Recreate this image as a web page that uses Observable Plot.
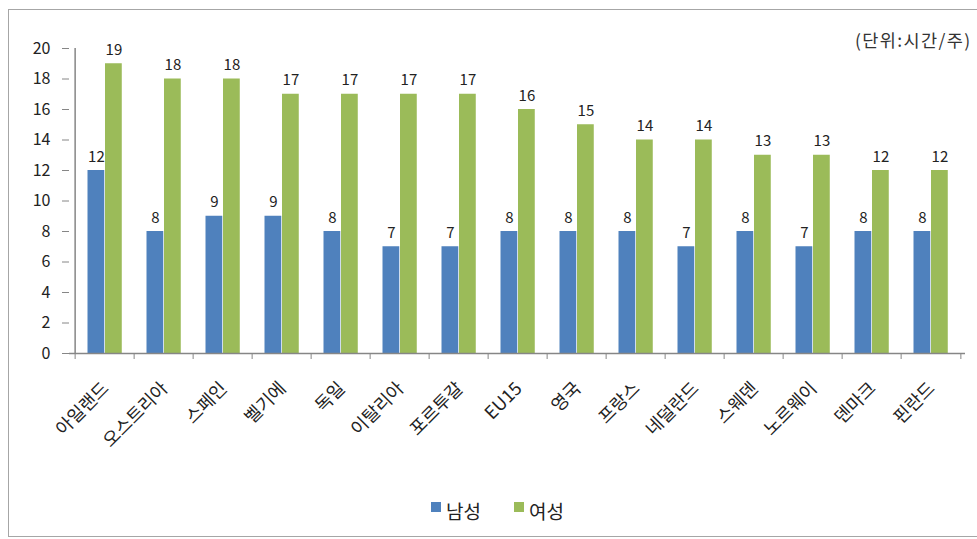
<!DOCTYPE html>
<html>
<head>
<meta charset="utf-8">
<script src="https://cdn.jsdelivr.net/npm/d3@7"></script>
<script src="https://cdn.jsdelivr.net/npm/@observablehq/plot@0.6"></script>
<style>
  html, body { margin: 0; padding: 0; background: #fff; }
  #wrap { position: relative; width: 977px; height: 539px; overflow: hidden; font-family: "Noto Sans CJK KR", "Noto Sans", sans-serif; }
  #frame { position: absolute; left: 8px; top: 9px; width: 1000px; height: 528px; border: 1.5px solid #a6a6a6; box-sizing: border-box; }
  #unit { position: absolute; left: 855px; top: 27px; font-size: 17.5px; letter-spacing: 1.4px; color: #333; white-space: nowrap; }
  #legend { position: absolute; top: 497px; left: 431px; font-size: 19px; color: #222; display: flex; align-items: center; }
  .sw { display: inline-block; width: 10px; height: 10px; margin-right: 5px; position: relative; top: -4px; }
  .item { display: flex; align-items: center; }
  svg { position: absolute; left: 0; top: 0; }
</style>
</head>
<body>
<div id="wrap">
  <div id="chart"></div>
  <div id="frame"></div>
  <div id="unit">(단위:시간/주)</div>
  <div id="legend">
    <span class="item"><span class="sw" style="background:#4F81BD"></span>남성</span>
    <span class="item" style="margin-left:33px"><span class="sw" style="background:#9BBB59"></span>여성</span>
  </div>
</div>
<script>
const categories = ["아일랜드","오스트리아","스페인","벨기에","독일","이탈리아","포르투갈","EU15","영국","프랑스","네덜란드","스웨덴","노르웨이","덴마크","핀란드"];
const male = [12,8,9,9,8,7,7,8,8,8,7,8,7,8,8];
const female = [19,18,18,17,17,17,17,16,15,14,14,13,13,12,12];
const yTicks = [0,2,4,6,8,10,12,14,16,18,20];

const W = 977, H = 539, mL = 69, mR = 12, mT = 48, mB = 186;
const bw = (W - mL - mR) / categories.length;
const barW = 17.5, off = 12.5;

const maleData = categories.map((c, i) => ({country: c, value: male[i]}));
const femaleData = categories.map((c, i) => ({country: c, value: female[i]}));

const axisStroke = "#868686";
const txt = "#222";

const chart = Plot.plot({
  width: W, height: H,
  marginLeft: mL, marginRight: mR, marginTop: mT, marginBottom: mB,
  style: {fontFamily: '"Noto Sans CJK KR", "Noto Sans", sans-serif', fontSize: "14px", color: txt, background: "transparent"},
  x: {domain: categories, padding: 0, axis: null, label: null},
  y: {domain: [0, 20], axis: null, label: null},
  marks: [
    Plot.barY(maleData, {x: "country", y: "value", fill: "#4F81BD", insetLeft: off, insetRight: bw - off - barW}),
    Plot.barY(femaleData, {x: "country", y: "value", fill: "#9BBB59", insetLeft: off + barW, insetRight: bw - off - 2 * barW}),
    Plot.text(maleData, {x: "country", y: "value", text: d => String(d.value), dx: off + barW / 2 - bw / 2, dy: -9, lineAnchor: "bottom", fill: txt, fontSize: 15}),
    Plot.text(femaleData, {x: "country", y: "value", text: d => String(d.value), dx: off + 1.5 * barW - bw / 2, dy: -9, lineAnchor: "bottom", fill: txt, fontSize: 15}),
    Plot.ruleY([0], {stroke: axisStroke, strokeWidth: 1.5}),
    Plot.ruleX([categories[0]], {y1: 0, y2: 20, dx: -bw / 2, stroke: axisStroke, strokeWidth: 1.5}),
    Plot.axisY({ticks: yTicks, tickSize: 7, tickPadding: 12, stroke: axisStroke, fill: txt, fontSize: 16, label: null}),
    Plot.axisX({ticks: categories, tickSize: 6, tickFormat: () => "", dx: -bw / 2, stroke: axisStroke, label: null}),
    Plot.axisX({ticks: [categories[categories.length - 1]], tickSize: 6, tickFormat: () => "", dx: bw / 2, stroke: axisStroke, label: null}),
    Plot.axisX({ticks: categories, tickSize: 0, tickRotate: -45, tickPadding: 32, fill: txt, fontSize: 18, dx: 1, label: null})
  ]
});
document.getElementById("chart").appendChild(chart);
</script>
</body>
</html>
